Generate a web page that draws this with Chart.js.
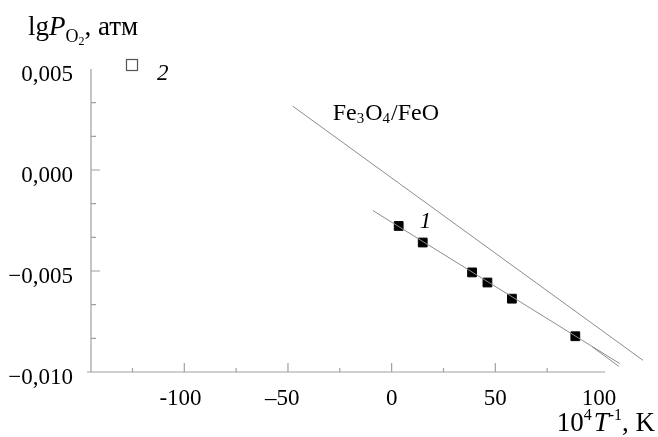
<!DOCTYPE html>
<html>
<head>
<meta charset="utf-8">
<script src="https://cdn.jsdelivr.net/npm/chart.js@4"></script>
<style>
  html, body { margin: 0; padding: 0; background: #fff; }
  #wrap { width: 658px; height: 437px; }
</style>
</head>
<body>
<div id="wrap"><canvas id="chart" width="658" height="437"></canvas></div>
<script>
// ---- data ----
const pointsX = [3.4, 15.0, 38.8, 46.2, 58.0, 88.6];
const pointsY = [-0.00277, -0.00359, -0.00507, -0.00557, -0.00637, -0.00823];

// fitted line through series 1
const fitX = [-9.0, 110.0];
const fitY = [-0.00201, -0.00958];

// short second trace at the end of the fitted line
const tailX = [96.7, 109.6];
const tailY = [-0.00875, -0.00972];

// Fe3O4/FeO equilibrium line
const eqX = [-47.7, 121.2];
const eqY = [0.00316, -0.00942];

// axis ticks
const xMajor = [-100, -50, 0, 50];
const xMinor = [-125, -75, -25, 25, 75];
const xLabelVals = [-100, -50, 0, 50, 100];
const xLabelSign = ["-", "\u2013", "", "", ""];
const xLabelNum = ["100", "50", "0", "50", "100"];

const yMajor = [0, -0.005];
const yMinor = [0.005 * 2 / 3, 0.005 / 3, -0.005 / 3, -0.005 * 2 / 3, -0.005 * 4 / 3, -0.005 * 5 / 3];
const yLabelVals = [0.005, 0, -0.005, -0.010];
const yLabels = ["0,005", "0,000", "\u22120,005", "\u22120,010"];

const xRange = [-145, 125];
const xAxisEnd = 103;
const yRange = [-0.010, 0.005];

const SERIF = "'Liberation Serif', 'DejaVu Serif', serif";
const AXIS_COLOR = "#a0a0a0";
const LINE_COLOR = "#8c8c8c";

const xy = (xs, ys) => xs.map((v, i) => ({ x: v, y: ys[i] }));

function richWidth(ctx, parts) {
  let w = 0;
  parts.forEach((p) => {
    ctx.font = p.font;
    w += ctx.measureText(p.text).width + (p.gap || 0);
  });
  return w;
}

function drawRich(ctx, x, y, parts) {
  let cx = x;
  parts.forEach((p) => {
    ctx.font = p.font;
    ctx.fillText(p.text, cx, y + (p.dy || 0));
    cx += ctx.measureText(p.text).width + (p.gap || 0);
  });
}

// axes with inward ticks, labels and annotations
const axesPlugin = {
  id: "axesPlugin",
  beforeDatasetsDraw(chart) {
    const { ctx, scales: { x, y } } = chart;
    const x0 = x.getPixelForValue(xRange[0]);
    const x1 = x.getPixelForValue(xAxisEnd);
    const yb = y.getPixelForValue(yRange[0]);
    const yt = y.getPixelForValue(yRange[1]);
    ctx.save();
    ctx.strokeStyle = AXIS_COLOR;
    ctx.lineWidth = 1.2;
    ctx.beginPath();
    ctx.moveTo(x0, yt);
    ctx.lineTo(x0, yb);
    ctx.moveTo(x0 - 4, yb);
    ctx.lineTo(x1, yb);
    xMajor.forEach((v) => {
      const px = x.getPixelForValue(v);
      ctx.moveTo(px, yb);
      ctx.lineTo(px, yb - 9);
    });
    xMinor.forEach((v) => {
      const px = x.getPixelForValue(v);
      ctx.moveTo(px, yb);
      ctx.lineTo(px, yb - 4);
    });
    yMajor.forEach((v) => {
      const py = y.getPixelForValue(v);
      ctx.moveTo(x0, py);
      ctx.lineTo(x0 + 9, py);
    });
    yMinor.forEach((v) => {
      const py = y.getPixelForValue(v);
      ctx.moveTo(x0, py);
      ctx.lineTo(x0 + 5, py);
    });
    ctx.stroke();
    ctx.restore();
  },
  afterDraw(chart) {
    const { ctx, scales: { x, y } } = chart;
    const yb = y.getPixelForValue(yRange[0]);
    ctx.save();
    ctx.fillStyle = "#000";
    ctx.textBaseline = "alphabetic";

    // y tick labels
    ctx.font = `23px ${SERIF}`;
    ctx.textAlign = "right";
    yLabelVals.forEach((v, i) => {
      ctx.fillText(yLabels[i], 73, y.getPixelForValue(v) + 11.5);
    });

    // x tick labels: digits centred on the tick, sign hanging left
    xLabelVals.forEach((v, i) => {
      const px = x.getPixelForValue(v);
      ctx.textAlign = "center";
      ctx.fillText(xLabelNum[i], px, yb + 33);
      if (xLabelSign[i]) {
        const w = ctx.measureText(xLabelNum[i]).width;
        ctx.textAlign = "right";
        ctx.fillText(xLabelSign[i], px - w / 2, yb + 33);
      }
    });

    ctx.textAlign = "left";
    // y axis title
    drawRich(ctx, 28, 35, [
      { text: "lg", font: `27px ${SERIF}` },
      { text: "P", font: `italic 27px ${SERIF}` },
      { text: "O", font: `18px ${SERIF}`, dy: 7 },
      { text: "2", font: `12px ${SERIF}`, dy: 10 },
      { text: ", атм", font: `27px ${SERIF}` }
    ]);

    // x axis title, right aligned
    const xt = [
      { text: "10", font: `27px ${SERIF}` },
      { text: "4", font: `16px ${SERIF}`, dy: -11, gap: 2 },
      { text: "T", font: `italic 27px ${SERIF}` },
      { text: "-1", font: `16px ${SERIF}`, dy: -11 },
      { text: ", K", font: `27px ${SERIF}` }
    ];
    drawRich(ctx, 655 - richWidth(ctx, xt), 431, xt);

    // line label Fe3O4/FeO
    drawRich(ctx, x.getPixelForValue(-28.4), y.getPixelForValue(0.00247), [
      { text: "Fe", font: `24px ${SERIF}` },
      { text: "3", font: `15px ${SERIF}`, dy: 3, gap: 1 },
      { text: "O", font: `24px ${SERIF}` },
      { text: "4", font: `15px ${SERIF}`, dy: 3, gap: 1 },
      { text: "/FeO", font: `24px ${SERIF}` }
    ]);

    // series label 1
    ctx.font = `italic 23px ${SERIF}`;
    ctx.fillText("1", x.getPixelForValue(13.6), y.getPixelForValue(-0.00247) + 8);

    // legend entry for series 2 (open square)
    ctx.strokeStyle = "#555";
    ctx.lineWidth = 1.2;
    ctx.strokeRect(126.5, 59.5, 11, 11);
    ctx.fillText("2", 157, 80);
    ctx.restore();
  }
};

const lineSet = (label, xs, ys) => ({
  label,
  data: xy(xs, ys),
  showLine: true,
  borderColor: LINE_COLOR,
  borderWidth: 1,
  pointRadius: 0,
  clip: false
});

new Chart(document.getElementById("chart"), {
  type: "scatter",
  data: {
    datasets: [
      lineSet("Fe3O4/FeO", eqX, eqY),
      lineSet("fit 1", fitX, fitY),
      lineSet("fit 1 tail", tailX, tailY),
      {
        label: "1",
        data: xy(pointsX, pointsY),
        showLine: false,
        pointStyle: "rect",
        pointRadius: 6.2,
        pointBackgroundColor: "#000",
        pointBorderColor: "#000",
        pointBorderWidth: 1,
        clip: false
      }
    ]
  },
  options: {
    responsive: false,
    animation: false,
    events: [],
    layout: { padding: { left: 91, top: 69, right: 6, bottom: 65 } },
    scales: {
      x: { type: "linear", display: false, min: xRange[0], max: xRange[1] },
      y: { type: "linear", display: false, min: yRange[0], max: yRange[1] }
    },
    plugins: {
      legend: { display: false },
      tooltip: { enabled: false }
    }
  },
  plugins: [axesPlugin]
});
</script>
</body>
</html>
